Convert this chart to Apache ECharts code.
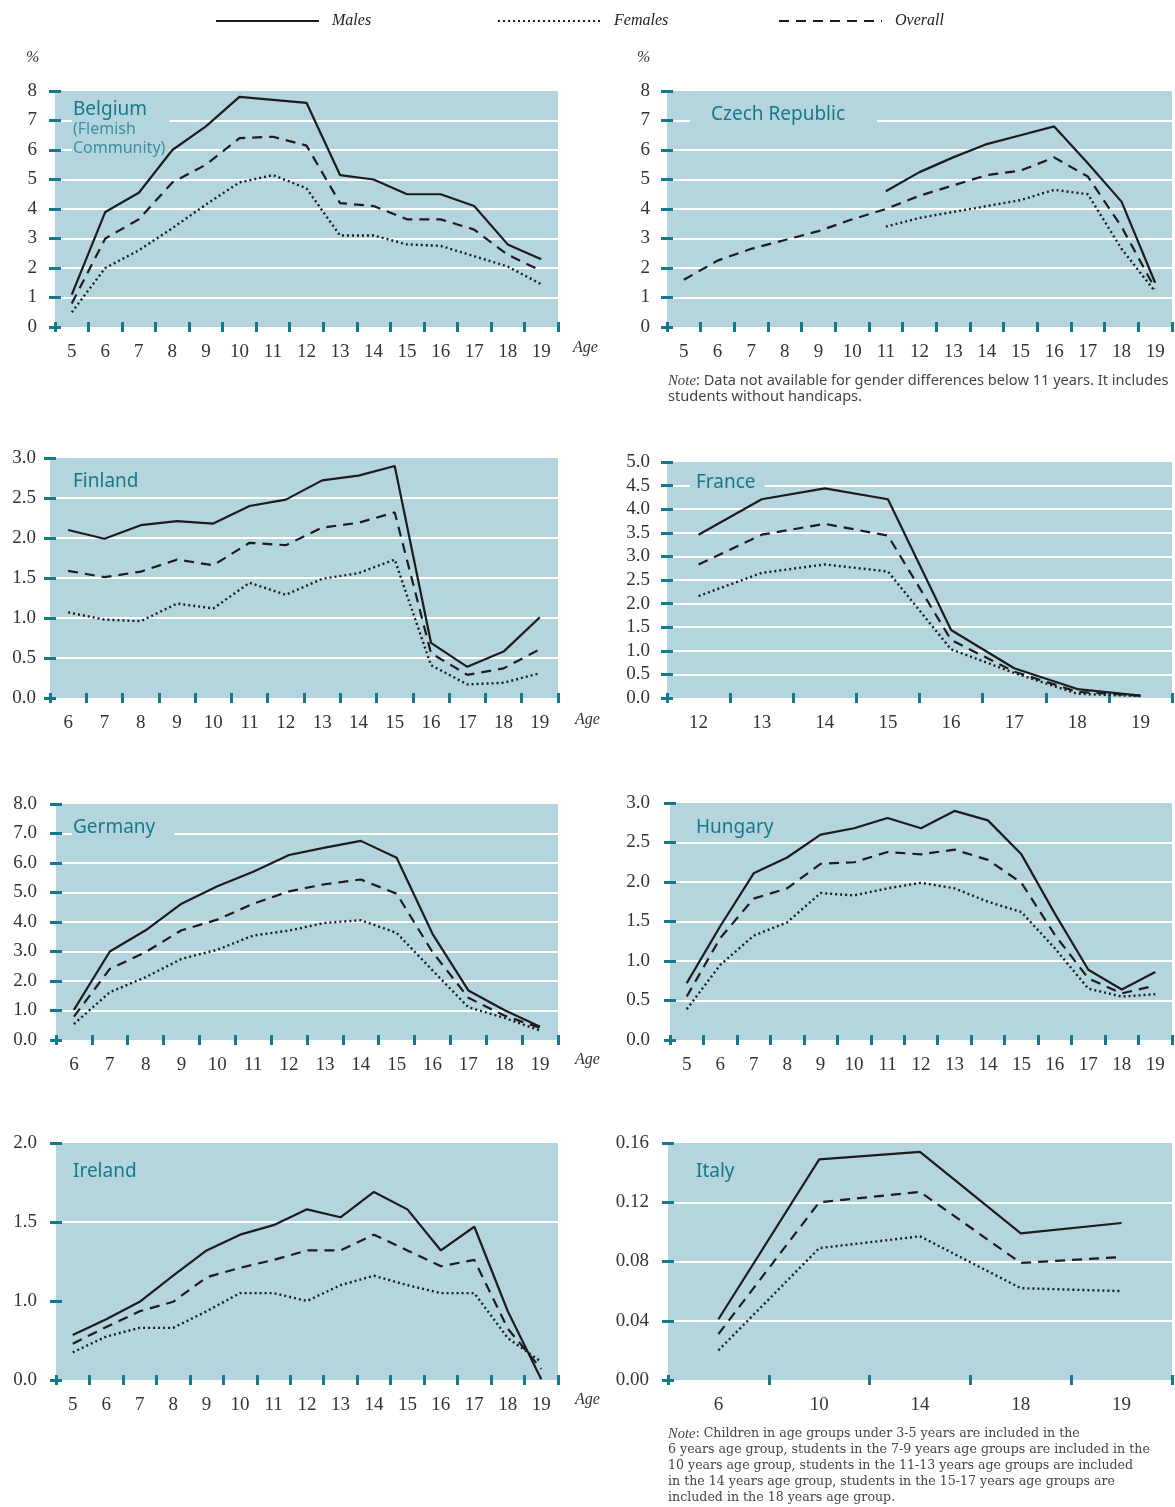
<!DOCTYPE html>
<html>
<head>
<meta charset="utf-8">
<script src="https://cdn.jsdelivr.net/npm/echarts@6/dist/echarts.min.js"></script>
<style>
  html, body { margin: 0; padding: 0; background: #ffffff; }
  #chart { width: 1175px; height: 1507px; }
</style>
</head>
<body>
<div id="chart"></div>
<script>
// ---- Age categories -------------------------------------------------------
const agesFrom5  = ['5','6','7','8','9','10','11','12','13','14','15','16','17','18','19'];
const agesFrom6  = ['6','7','8','9','10','11','12','13','14','15','16','17','18','19'];
const agesFrom12 = ['12','13','14','15','16','17','18','19'];
const agesItaly  = ['6','10','14','18','19'];

// ---- Value axes: [min, max, step] ------------------------------------------
const belgiumScale = [0, 8, 1];
const czechScale   = [0, 8, 1];
const finlandScale = [0, 3, 0.5];
const franceScale  = [0, 5, 0.5];
const germanyScale = [0, 8, 1];
const hungaryScale = [0, 3, 0.5];
const irelandScale = [0, 2, 0.5];
const italyScale   = [0, 0.16, 0.04];

// ---- Percentages by age ----------------------------------------------------
const belgiumMales   = [1.1, 3.9, 4.55, 6.0, 6.8, 7.8, 7.7, 7.6, 5.15, 5.0, 4.5, 4.5, 4.1, 2.8, 2.3];
const belgiumFemales = [0.5, 2.0, 2.6, 3.35, 4.15, 4.9, 5.15, 4.7, 3.1, 3.1, 2.8, 2.75, 2.4, 2.05, 1.45];
const belgiumOverall = [0.8, 3.0, 3.65, 4.9, 5.5, 6.4, 6.45, 6.15, 4.2, 4.1, 3.65, 3.65, 3.3, 2.45, 1.9];

const czechMales   = [null, null, null, null, null, null, 4.6, 5.25, 5.75, 6.2, 6.5, 6.8, 5.55, 4.25, 1.5];
const czechFemales = [null, null, null, null, null, null, 3.4, 3.7, 3.9, 4.1, 4.3, 4.65, 4.5, 2.65, 1.2];
const czechOverall = [1.6, 2.25, 2.65, 2.95, 3.25, 3.65, 4.0, 4.45, 4.8, 5.15, 5.3, 5.75, 5.1, 3.4, 1.3];

const finlandMales   = [2.10, 1.99, 2.16, 2.21, 2.18, 2.40, 2.48, 2.72, 2.78, 2.90, 0.69, 0.39, 0.58, 1.01];
const finlandFemales = [1.07, 0.98, 0.96, 1.18, 1.12, 1.44, 1.29, 1.49, 1.56, 1.73, 0.41, 0.17, 0.19, 0.31];
const finlandOverall = [1.59, 1.51, 1.58, 1.73, 1.66, 1.94, 1.91, 2.13, 2.19, 2.32, 0.56, 0.29, 0.37, 0.61];

const franceMales   = [3.46, 4.21, 4.44, 4.21, 1.44, 0.63, 0.19, 0.05];
const franceFemales = [2.16, 2.65, 2.83, 2.68, 1.03, 0.53, 0.09, 0.04];
const franceOverall = [2.83, 3.46, 3.69, 3.44, 1.23, 0.56, 0.13, 0.05];

const germanyMales   = [1.02, 3.0, 3.72, 4.62, 5.21, 5.7, 6.27, 6.52, 6.75, 6.18, 3.6, 1.68, 1.02, 0.45];
const germanyFemales = [0.54, 1.62, 2.13, 2.75, 3.06, 3.54, 3.71, 3.97, 4.06, 3.63, 2.36, 1.11, 0.75, 0.32];
const germanyOverall = [0.79, 2.41, 2.98, 3.72, 4.08, 4.62, 5.04, 5.28, 5.44, 4.96, 2.98, 1.43, 0.83, 0.41];

const hungaryMales   = [0.72, 1.44, 2.11, 2.31, 2.60, 2.68, 2.81, 2.68, 2.90, 2.78, 2.35, 1.60, 0.89, 0.64, 0.86];
const hungaryFemales = [0.39, 0.95, 1.32, 1.49, 1.86, 1.83, 1.92, 1.99, 1.92, 1.75, 1.62, 1.16, 0.65, 0.55, 0.58];
const hungaryOverall = [0.55, 1.29, 1.79, 1.92, 2.23, 2.25, 2.38, 2.35, 2.41, 2.28, 1.99, 1.33, 0.78, 0.59, 0.69];

const irelandMales   = [0.57, 0.77, 0.99, 1.16, 1.32, 1.42, 1.48, 1.58, 1.53, 1.69, 1.58, 1.32, 1.47, 0.87, 0.01];
const irelandFemales = [0.35, 0.55, 0.66, 0.66, 0.87, 1.05, 1.05, 1.0, 1.1, 1.16, 1.1, 1.05, 1.05, 0.53, 0.23];
const irelandOverall = [0.46, 0.67, 0.87, 0.99, 1.15, 1.21, 1.26, 1.32, 1.32, 1.42, 1.32, 1.22, 1.26, 0.65, 0.14];

const italyMales   = [0.041, 0.149, 0.154, 0.099, 0.106];
const italyFemales = [0.020, 0.089, 0.097, 0.062, 0.060];
const italyOverall = [0.031, 0.120, 0.127, 0.079, 0.083];

// ---- Styling ---------------------------------------------------------------
const TEAL = '#16798b';
const TEAL_LIGHT = '#3a90a1';
const PLOT_BG = '#b4d5de';
const INK = '#1c1c1c';
const SERIF = "'Liberation Serif', 'DejaVu Serif', serif";
const SANS = "'Noto Sans', 'DejaVu Sans', sans-serif";

const lineStyles = {
  Males:   { color: INK, width: 2.2, type: 'solid' },
  Females: { color: INK, width: 2.4, type: [2, 3] },
  Overall: { color: INK, width: 2.2, type: [10, 7] }
};

const panels = [
  { ages: agesFrom5,  scale: belgiumScale, decimals: 0, males: belgiumMales, females: belgiumFemales, overall: belgiumOverall,
    title: '{a|Belgium}\n{b|(Flemish}\n{b|Community)}' },
  { ages: agesFrom5,  scale: czechScale,   decimals: 0, males: czechMales,   females: czechFemales,   overall: czechOverall,
    title: '{a|Czech Republic}' },
  { ages: agesFrom6,  scale: finlandScale, decimals: 1, males: finlandMales, females: finlandFemales, overall: finlandOverall,
    title: '{a|Finland}' },
  { ages: agesFrom12, scale: franceScale,  decimals: 1, males: franceMales,  females: franceFemales,  overall: franceOverall,
    title: '{a|France}' },
  { ages: agesFrom6,  scale: germanyScale, decimals: 1, males: germanyMales, females: germanyFemales, overall: germanyOverall,
    title: '{a|Germany}' },
  { ages: agesFrom5,  scale: hungaryScale, decimals: 1, males: hungaryMales, females: hungaryFemales, overall: hungaryOverall,
    title: '{a|Hungary}' },
  { ages: agesFrom5,  scale: irelandScale, decimals: 1, males: irelandMales, females: irelandFemales, overall: irelandOverall,
    title: '{a|Ireland}', breaks: [{ start: 0, end: 1, gap: 0.5 }] },
  { ages: agesItaly,  scale: italyScale,   decimals: 2, males: italyMales,   females: italyFemales,   overall: italyOverall,
    title: '{a|Italy}' }
];

// Page geometry of each small multiple (plot box, label gap, title box)
const layout = [
  { left: 55,  top: 91,   width: 503, height: 236, labelGap: 18, tLeft: 73,  tTop: 100,  pad: [2, 4, 2, 1] },
  { left: 667, top: 91,   width: 505, height: 236, labelGap: 17, tLeft: 711, tTop: 105,  pad: [2, 32, 3, 21] },
  { left: 50,  top: 458,  width: 508, height: 240, labelGap: 14, tLeft: 73,  tTop: 472,  pad: [2, 4, 2, 1] },
  { left: 667, top: 462,  width: 505, height: 236, labelGap: 17, tLeft: 696, tTop: 473,  pad: [2, 9, 3, 6] },
  { left: 56,  top: 804,  width: 502, height: 236, labelGap: 19, tLeft: 73,  tTop: 818,  pad: [2, 19, 3, 1] },
  { left: 670, top: 803,  width: 502, height: 237, labelGap: 20, tLeft: 696, tTop: 818,  pad: [2, 4, 2, 1] },
  { left: 56,  top: 1143, width: 502, height: 237, labelGap: 19, tLeft: 73,  tTop: 1162, pad: [2, 4, 2, 1] },
  { left: 668, top: 1143, width: 504, height: 237, labelGap: 19, tLeft: 696, tTop: 1162, pad: [2, 4, 2, 1] }
];

const grid = [], xAxis = [], yAxis = [], series = [], title = [];

panels.forEach((p, i) => {
  const L = layout[i];
  grid.push({ left: L.left, top: L.top, width: L.width, height: L.height,
              show: true, backgroundColor: PLOT_BG, borderWidth: 0 });

  // category axis carrying the age labels
  xAxis.push({
    gridIndex: i, type: 'category', data: p.ages, boundaryGap: true,
    axisLine: { show: false }, axisTick: { show: false }, splitLine: { show: false },
    axisLabel: { interval: 0, margin: 16, color: '#333', fontFamily: SERIF, fontSize: 19 }
  });
  // twin axis that only draws the teal boundary ticks across the bottom edge
  xAxis.push({
    gridIndex: i, type: 'category', data: p.ages, boundaryGap: true, position: 'bottom', offset: -5,
    axisLine: { show: false }, axisLabel: { show: false, interval: 0 }, splitLine: { show: false },
    axisTick: { show: true, interval: 0, length: 10, lineStyle: { color: TEAL, width: 3 } }, z: 3
  });

  const yBase = { gridIndex: i, type: 'value', min: p.scale[0], max: p.scale[1], interval: p.scale[2] };
  if (p.breaks) {
    yBase.breaks = p.breaks;
    yBase.breakArea = { show: false };
  }
  yAxis.push(Object.assign({}, yBase, {
    axisLine: { show: false }, axisTick: { show: false },
    axisLabel: { margin: L.labelGap, color: '#333', fontFamily: SERIF, fontSize: 19,
                 formatter: v => Number(v).toFixed(p.decimals) },
    splitLine: { show: true, showMinLine: false, showMaxLine: false, lineStyle: { color: '#ffffff', width: 2 } }
  }));
  yAxis.push(Object.assign({}, yBase, {
    position: 'left', offset: -6,
    axisLine: { show: false }, axisLabel: { show: false }, splitLine: { show: false },
    axisTick: { show: true, length: 12, lineStyle: { color: TEAL, width: 3 } }, z: 3
  }));

  [['Males', p.males], ['Females', p.females], ['Overall', p.overall]].forEach(([name, data]) => {
    series.push({
      type: 'line', name, data, xAxisIndex: 2 * i, yAxisIndex: 2 * i,
      symbol: 'none', connectNulls: false, lineStyle: lineStyles[name],
      itemStyle: { color: INK }, z: 4
    });
  });

  title.push({
    text: p.title, left: L.tLeft - L.pad[3], top: L.tTop - L.pad[0], padding: L.pad,
    backgroundColor: PLOT_BG, z: 1,
    textStyle: {
      fontWeight: 'normal',
      rich: {
        a: { fontFamily: SANS, fontSize: 19, fontWeight: 'normal', color: TEAL, lineHeight: 20 },
        b: { fontFamily: SANS, fontSize: 16, fontWeight: 'normal', color: TEAL_LIGHT, lineHeight: 19 }
      }
    }
  });
});

const legendBase = {
  top: 8, itemWidth: 103, itemHeight: 14, itemGap: 0, selectedMode: true,
  itemStyle: { opacity: 0 },
  textStyle: { fontFamily: SERIF, fontStyle: 'italic', fontSize: 16, color: '#222', padding: [0, 0, 0, 8] }
};

const noteItalic = { fontFamily: SERIF, fontStyle: 'italic', fill: '#444' };

const option = {
  animation: false,
  backgroundColor: '#ffffff',
  title,
  legend: [
    Object.assign({}, legendBase, { left: 210, data: ['Males'] }),
    Object.assign({}, legendBase, { left: 492, data: ['Females'] }),
    Object.assign({}, legendBase, { left: 773, data: ['Overall'] })
  ],
  grid, xAxis, yAxis, series,
  graphic: [
    { type: 'text', left: 26, top: 50, style: { text: '%', font: "italic 16px 'Liberation Serif'", fill: '#333' } },
    { type: 'text', left: 637, top: 50, style: { text: '%', font: "italic 16px 'Liberation Serif'", fill: '#333' } },
    { type: 'text', left: 573, top: 340, style: { text: 'Age', font: "italic 16px 'Liberation Serif'", fill: '#333' } },
    { type: 'text', left: 575, top: 712, style: { text: 'Age', font: "italic 16px 'Liberation Serif'", fill: '#333' } },
    { type: 'text', left: 575, top: 1052, style: { text: 'Age', font: "italic 16px 'Liberation Serif'", fill: '#333' } },
    { type: 'text', left: 575, top: 1392, style: { text: 'Age', font: "italic 16px 'Liberation Serif'", fill: '#333' } },
    { type: 'text', left: 668, top: 373, style: {
        text: '{i|Note}: Data not available for gender differences below 11 years. It includes\nstudents without handicaps.',
        fontFamily: SANS, fontSize: 14.6, lineHeight: 16, fill: '#444',
        rich: { i: Object.assign({ fontSize: 14.8 }, noteItalic) } } },
    { type: 'text', left: 668, top: 1426, style: {
        text: '{i|Note}: Children in age groups under 3-5 years are included in the\n' +
              '6 years age group, students in the 7-9 years age groups are included in the\n' +
              '10 years age group, students in the 11-13 years age groups are included\n' +
              'in the 14 years age group, students in the 15-17 years age groups are\n' +
              'included in the 18 years age group.',
        fontFamily: "'DejaVu Serif', serif", fontSize: 12.6, lineHeight: 16, fill: '#444',
        rich: { i: Object.assign({ fontSize: 14.5 }, noteItalic) } } }
  ]
};

const chart = echarts.init(document.getElementById('chart'), null, { renderer: 'canvas' });
chart.setOption(option);
</script>
</body>
</html>
